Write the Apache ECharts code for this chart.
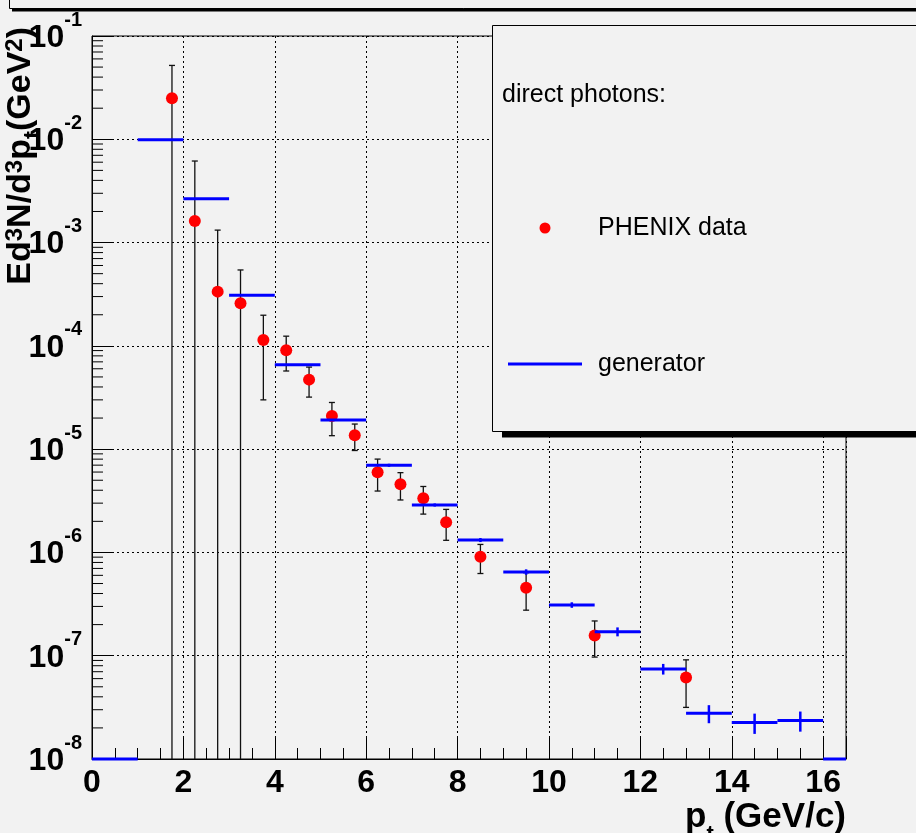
<!DOCTYPE html>
<html>
<head>
<meta charset="utf-8">
<script src="https://cdn.jsdelivr.net/npm/echarts@6/dist/echarts.min.js"></script>
<style>
  html, body { margin: 0; padding: 0; background: #f2f2f2; }
  #chart { width: 916px; height: 833px; }
</style>
</head>
<body>
<div id="chart"></div>
<script>
  // PHENIX direct photon points: pt, yield, error
  const dataPt = [1.75, 2.25, 2.75, 3.25, 3.75, 4.25, 4.75, 5.25, 5.75, 6.25, 6.75, 7.25, 7.75, 8.5, 9.5, 11, 13];
  const dataYield = [2.49e-2, 1.62e-3, 3.35e-4, 2.58e-4, 1.14e-4, 9.06e-5, 4.71e-5, 2.09e-5, 1.36e-5,
    5.97e-6, 4.57e-6, 3.35e-6, 1.96e-6, 9.1e-7, 4.56e-7, 1.57e-7, 6.14e-8];
  const dataErr = [2.7e-2, 4.54e-3, 9.85e-4, 2.85e-4, 8.4e-5, 3.35e-5, 1.52e-5, 7.4e-6, 3.9e-6,
    2.04e-6, 1.35e-6, 1.0e-6, 6.5e-7, 2.85e-7, 1.8e-7, 6.0e-8, 2.98e-8];

  // generator histogram, 1 GeV bins starting at 0
  const genLow = [0, 1, 2, 3, 4, 5, 6, 7, 8, 9, 10, 11, 12, 13, 14, 15, 16];
  const genYield = [0, 9.9e-3, 2.66e-3, 3.09e-4, 6.58e-5, 1.92e-5, 6.98e-6, 2.88e-6, 1.32e-6, 6.47e-7,
    3.10e-7, 1.71e-7, 7.45e-8, 2.77e-8, 2.25e-8, 2.36e-8, 0];
  const genErr = [0, 0, 0, 0, 0, 0, 2.4e-7, 1.0e-7, 6e-8, 3.9e-8, 1.9e-8, 1.7e-8, 8.8e-9, 5.5e-9, 5.0e-9, 5.2e-9, 0];

  const X_MAX = 16.5;
  const Y_MIN = 1e-8;
  const Y_MAX = 1e-1;
  const FONT = '"Liberation Sans", Arial, Helvetica, sans-serif';

  // log minor ticks 2..9 per decade
  const minorVals = [];
  for (let e = -8; e < -1; e++) {
    for (let k = 2; k <= 9; k++) minorVals.push(k * Math.pow(10, e));
  }

  const chart = echarts.init(document.getElementById('chart'));

  const option = {
    backgroundColor: '#f2f2f2',
    animation: false,
    grid: {
      left: 92, right: 70, top: 36, bottom: 74,
      show: true, borderColor: '#000', borderWidth: 1, backgroundColor: 'transparent'
    },
    xAxis: {
      type: 'value', min: 0, max: X_MAX, interval: 2,
      axisLine: { lineStyle: { color: '#000', width: 1 } },
      axisTick: { inside: true, length: 22, lineStyle: { color: '#000' } },
      minorTick: { show: true, splitNumber: 4, length: 11, lineStyle: { color: '#000' } },
      splitLine: { show: true, lineStyle: { color: '#000', type: [2, 3], width: 1 } },
      axisLabel: {
        margin: 8, color: '#000', fontSize: 32, fontWeight: 'bold', fontFamily: FONT,
        formatter: function (v) { return v % 2 === 0 ? String(v) : ''; }
      }
    },
    yAxis: {
      type: 'log', logBase: 10, min: Y_MIN, max: Y_MAX, splitNumber: 7,
      axisLine: { lineStyle: { color: '#000', width: 1 } },
      axisTick: { inside: true, length: 22, lineStyle: { color: '#000' } },
      splitLine: { show: true, lineStyle: { color: '#000', type: [2, 3], width: 1 } },
      axisLabel: {
        margin: 10, color: '#000', padding: [0, 0, 8, 0],
        formatter: function (v) {
          return '{b|10}{s|' + Math.round(Math.log10(v)) + '}';
        },
        rich: {
          b: { fontSize: 32, fontWeight: 'bold', fontFamily: FONT, lineHeight: 32, verticalAlign: 'bottom', color: '#000' },
          s: { fontSize: 20, fontWeight: 'bold', fontFamily: FONT, lineHeight: 44, verticalAlign: 'top', color: '#000' }
        }
      }
    },
    series: [
      {
        // minor ticks on the log axis
        type: 'custom',
        silent: true,
        data: minorVals.map(v => [0, v]),
        renderItem: function (params, api) {
          const p = api.coord([0, api.value(1)]);
          return {
            type: 'line',
            shape: { x1: p[0], y1: p[1], x2: p[0] + 11, y2: p[1] },
            style: { stroke: '#000', lineWidth: 1 }
          };
        },
        z: 1
      },
      {
        // error bars of the data points
        type: 'custom',
        data: dataPt.map((x, i) => [x, dataYield[i], dataErr[i]]),
        renderItem: function (params, api) {
          const x = api.value(0), y = api.value(1), e = api.value(2);
          const lowV = y - e;
          const top = api.coord([x, y + e]);
          const bot = api.coord([x, Math.max(lowV, Y_MIN)]);
          const st = { stroke: '#111', lineWidth: 1.3 };
          const children = [
            { type: 'line', shape: { x1: top[0], y1: top[1], x2: bot[0], y2: bot[1] }, style: st },
            { type: 'line', shape: { x1: top[0] - 3, y1: top[1], x2: top[0] + 3, y2: top[1] }, style: st }
          ];
          if (lowV > Y_MIN) {
            children.push({ type: 'line', shape: { x1: bot[0] - 3, y1: bot[1], x2: bot[0] + 3, y2: bot[1] }, style: st });
          }
          return { type: 'group', children: children };
        },
        z: 3
      },
      {
        name: 'PHENIX data',
        type: 'scatter',
        symbol: 'circle',
        symbolSize: 12,
        itemStyle: { color: '#ff0000', opacity: 1 },
        data: dataPt.map((x, i) => [x, dataYield[i]]),
        z: 4
      },
      {
        name: 'generator',
        type: 'custom',
        data: genLow.map((lo, i) => [lo, lo + 1, genYield[i], genErr[i]]),
        renderItem: function (params, api) {
          const lo = api.value(0), hi = Math.min(api.value(1), X_MAX);
          const y = Math.max(api.value(2), Y_MIN), e = api.value(3);
          const p1 = api.coord([lo, y]), p2 = api.coord([hi, y]);
          const children = [
            { type: 'line', shape: { x1: p1[0], y1: p1[1], x2: p2[0], y2: p2[1] }, style: { stroke: '#0000ff', lineWidth: 3 } }
          ];
          if (e > 0) {
            const c = (api.value(0) + api.value(1)) / 2;
            const t = api.coord([c, y + e]), b = api.coord([c, y - e]);
            children.push({ type: 'line', shape: { x1: t[0], y1: t[1], x2: b[0], y2: b[1] }, style: { stroke: '#0000ff', lineWidth: 2.5 } });
          }
          return { type: 'group', children: children };
        },
        z: 5
      }
    ],
    graphic: [
      // clipped title box at the top of the canvas
      { type: 'rect', z: 100, shape: { x: 12, y: 8, width: 910, height: 3.5 }, style: { fill: '#000' } },
      { type: 'rect', z: 101, shape: { x: 9.5, y: -20, width: 920, height: 28.5 }, style: { fill: '#f2f2f2', stroke: '#000', lineWidth: 1 } },
      // legend box with shadow
      { type: 'rect', z: 100, shape: { x: 502, y: 431, width: 420, height: 6.5 }, style: { fill: '#000' } },
      { type: 'rect', z: 101, shape: { x: 492.5, y: 25.5, width: 430, height: 406 }, style: { fill: '#f2f2f2', stroke: '#000', lineWidth: 1 } },
      {
        type: 'text', z: 102, x: 502, y: 95,
        style: { text: 'direct photons:', fontSize: 25, fontFamily: FONT, fill: '#000', verticalAlign: 'middle' }
      },
      { type: 'circle', z: 102, shape: { cx: 545, cy: 228, r: 5.5 }, style: { fill: '#ff0000' } },
      {
        type: 'text', z: 102, x: 598, y: 228,
        style: { text: 'PHENIX data', fontSize: 25, fontFamily: FONT, fill: '#000', verticalAlign: 'middle' }
      },
      { type: 'line', z: 102, shape: { x1: 508, y1: 364, x2: 582, y2: 364 }, style: { stroke: '#0000ff', lineWidth: 3 } },
      {
        type: 'text', z: 102, x: 598, y: 364,
        style: { text: 'generator', fontSize: 25, fontFamily: FONT, fill: '#000', verticalAlign: 'middle' }
      },
      // axis titles
      {
        type: 'text', z: 50, x: 846, y: 800,
        style: {
          text: '{m|p}{sb|t}{m| (GeV/c)}', align: 'right', verticalAlign: 'top',
          rich: {
            m: { fontSize: 35, fontWeight: 'bold', fontFamily: FONT, lineHeight: 35, verticalAlign: 'top', fill: '#000' },
            sb: { fontSize: 22, fontWeight: 'bold', fontFamily: FONT, lineHeight: 22, verticalAlign: 'top', padding: [24, 0, 0, 0], fill: '#000' }
          }
        }
      },
      {
        type: 'text', z: 50, x: 3.4, y: 27, rotation: Math.PI / 2,
        style: {
          text: '{m|Ed}{sp|3}{m|N/d}{sp|3}{m|p}{sb|t}{m|(GeV}{sp|2}{m|)}', align: 'right', verticalAlign: 'top',
          rich: {
            m: { fontSize: 34, fontWeight: 'bold', fontFamily: FONT, lineHeight: 34, verticalAlign: 'top', fill: '#000' },
            sp: { fontSize: 24, fontWeight: 'bold', fontFamily: FONT, lineHeight: 24, verticalAlign: 'top', fill: '#000' },
            sb: { fontSize: 24, fontWeight: 'bold', fontFamily: FONT, lineHeight: 24, verticalAlign: 'top', padding: [18, 0, 0, 0], fill: '#000' }
          }
        }
      }
    ]
  };

  chart.setOption(option);
</script>
</body>
</html>
